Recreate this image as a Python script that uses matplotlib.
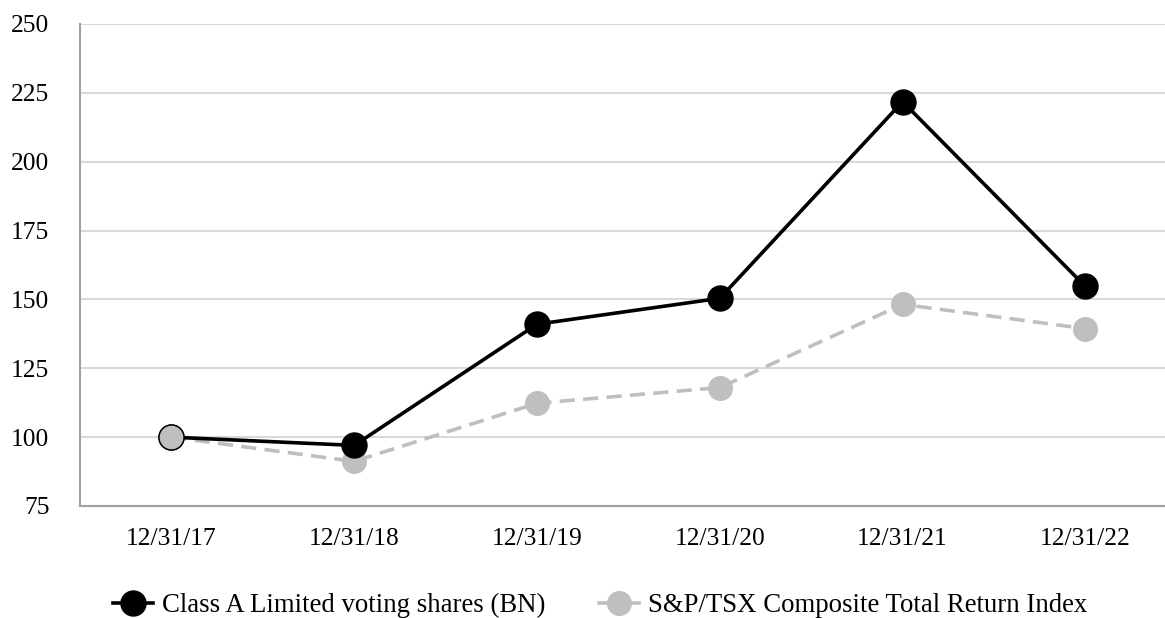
import matplotlib
matplotlib.use("Agg")
import matplotlib.pyplot as plt
from matplotlib.lines import Line2D

categories = ["12/31/17", "12/31/18", "12/31/19", "12/31/20", "12/31/21", "12/31/22"]
bn_values = [100, 97, 141, 150.4, 221.8, 154.7]
tsx_values = [100, 91.2, 112.3, 118.0, 148.2, 139.4]
y_ticks = [75, 100, 125, 150, 175, 200, 225, 250]
bn_label = "Class A Limited voting shares (BN)"
tsx_label = "S&P/TSX Composite Total Return Index"

plt.rcParams['font.family'] = ['Liberation Serif', 'DejaVu Serif']

W, H = 1165, 618
fig = plt.figure(figsize=(W / 100, H / 100), dpi=100)
left = 80 / W
bottom = 1 - 506 / H
top = 1 - 24 / H
width = 6 * 182.8 / W
ax = fig.add_axes([left, bottom, width, top - bottom])

x = list(range(len(categories)))

LW = 2.6
ax.plot(x, tsx_values, color='#bfbfbf', linewidth=LW, dashes=(4.2, 2.3),
        marker='o', markersize=17, markerfacecolor='#bfbfbf',
        markeredgecolor='#bfbfbf', zorder=3)
ax.plot(x, bn_values, color='black', linewidth=LW,
        marker='o', markersize=18, markerfacecolor='black',
        markeredgecolor='black', zorder=4)
# first point drawn gray with black outline
ax.plot([x[0]], [bn_values[0]], linestyle='none', marker='o', markersize=18,
        markerfacecolor='#bfbfbf', markeredgecolor='black', markeredgewidth=1.0,
        zorder=5)

ax.set_xlim(-0.5, len(categories) - 0.5)
ax.set_ylim(75, 250)
ax.set_yticks(y_ticks)
ax.set_xticks(x)
ax.set_xticklabels(categories)

ax.grid(axis='y', color='#d9d9d9', linewidth=1.5)
ax.set_axisbelow(True)
for s in ['top', 'right']:
    ax.spines[s].set_visible(False)
for s in ['left', 'bottom']:
    ax.spines[s].set_color('#a0a0a0')
    ax.spines[s].set_linewidth(1.5)

ax.tick_params(axis='x', length=0, pad=16, labelsize=18.4)
ax.tick_params(axis='y', length=0, pad=22, labelsize=18.4)

handles = [
    Line2D([], [], color='black', linewidth=LW, marker='o', markersize=18,
           markerfacecolor='black', markeredgecolor='black'),
    Line2D([], [], color='#bfbfbf', linewidth=LW, marker='o', markersize=17,
           markerfacecolor='#bfbfbf', markeredgecolor='#bfbfbf'),
]
fig.legend(handles, [bn_label, tsx_label], loc='center',
           bbox_to_anchor=(600 / W, 1 - 605.5 / H), ncol=2, frameon=False,
           fontsize=19.3, handlelength=1.5, handletextpad=0.33,
           columnspacing=2.0, borderpad=0)

fig.savefig("out.png", dpi=100)
